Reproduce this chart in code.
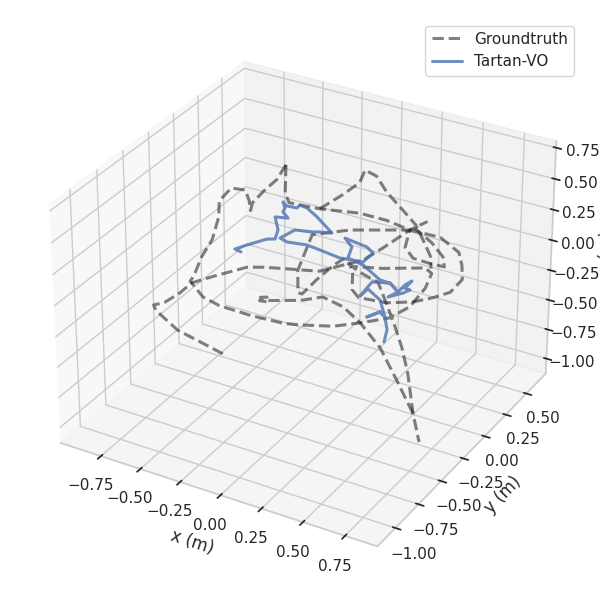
import numpy as np, matplotlib
matplotlib.use("Agg")
import matplotlib.pyplot as plt, seaborn as sns
sns.set_theme(style="whitegrid")

g1x=[-.38,-.5,-.62,-.75,-.77,-.72,-.66,-.62,-.51,-.38,-.31,-.2,-.13,-.04,.06,.15,.23,.33,.4]
g1y=[-.54,-.57,-.61,-.62,-.61,-.58,-.52,-.46,-.38,-.28,-.24,-.18,-.14,-.09,-.02,.05,.13,.24,.31]
g1z=[-.59,-.52,-.44,-.32,-.29,-.27,-.21,-.15,-.1,-.05,-.05,-.06,-.07,-.08,-.04,-.01,.07,.18,.23]
g2x=[-.36,-.36,-.4,-.44,-.44,-.46,-.49,-.56,-.6,-.58,-.58,-.61,-.62,-.63,-.55,-.46,-.3,-.14,-.06,.1,.22,.35,.43,.48,.49,.45,.25,.11,.07,.15,.25,.33,.39,.45,.51,.59,.73]
g2y=[.1,.0,-.05,-.12,-.14,-.12,-.11,-.14,-.2,-.24,-.31,-.37,-.44,-.46,-.46,-.44,-.38,-.31,-.27,-.18,-.1,-.01,.07,.15,.2,.2,.08,.01,-.0,.01,.04,.01,-.02,-.05,-.09,-.17,-.36]
g2z=[.55,.49,.43,.35,.3,.36,.43,.44,.36,.26,.12,.01,-.11,-.14,-.24,-.29,-.35,-.4,-.41,-.42,-.4,-.37,-.3,-.18,-.09,-.06,-.06,-.05,-.02,-.08,-.15,-.31,-.42,-.55,-.71,-.96,-1.0]
g3x=[-.27,-.28,-.25,-.24,-.28,-.16,-.09,.01,.12,.22,.35,.47,.59]
g3y=[-.31,-.31,-.29,-.3,-.32,-.25,-.21,-.14,-.11,-.1,-.11,-.14,-.17]
g3z=[-.26,-.24,-.24,-.27,-.26,-.26,-.26,-.24,-.3,-.4,-.55,-.75,-.96]
g4x=[-.36,-.3,-.27,-.22,-.12,.07,.21,.33,.48,.59,.62,.64,.6,.53,.44,.32,.18,.14,.12,.1]
g4y=[.1,-.01,-.02,.01,.05,.15,.2,.24,.31,.32,.3,.27,.21,.15,.09,.01,-.05,-.05,-.01,-.0]
g4z=[.55,.41,.35,.33,.31,.28,.24,.18,.13,.04,-.04,-.13,-.21,-.24,-.27,-.27,-.24,-.19,-.09,-.05]
g5x=[-.12,-.03,.03,.04,.1,.17,.27,.35,.42,.46,.48]
g5y=[.05,.14,.22,.26,.28,.27,.27,.27,.25,.24,.21]
g5z=[.31,.4,.47,.55,.51,.41,.3,.21,.09,.01,-.06]
g6x=[.06,.02,-.04,-.09,-.11,-.14,-.13,-.12,.05,.33,.33,.38,.47,.54,.52,.45,.35]
g6y=[.01,-.04,-.12,-.19,-.2,-.15,-.09,-.03,.08,.24,.19,.19,.22,.25,.27,.27,.26]
g6z=[.0,-.04,-.13,-.22,-.21,-.07,.04,.15,.18,.18,.07,.0,-.03,-.05,.01,.1,.19]
bx=[-.431,-.463,-.412,-.326,-.289,-.287,-.318,-.256,-.288,-.284,-.301,-.277,-.228,-.218,-.181,-.122,-.031,-.088,-.121,-.208,-.267,-.229,-.132,-.064,.04,.153,.188,.151,.037,.081,.077,.157,.256,.307,.357,.317,.381,.41,.384,.407,.38,.357,.307,.222,.184,.212,.283,.329,.299,.245,.299,.329,.356,.358]
by=[-.258,-.268,-.226,-.159,-.138,-.109,-.087,-.055,-.055,-.04,-.032,-.03,-.008,.007,.019,.025,.028,-.002,-.02,-.064,-.122,-.113,-.066,-.043,-.008,.044,.092,.089,.051,.049,.014,.038,.049,.068,.069,.031,.08,.106,.097,.132,.104,.069,.068,.023,-.042,-.004,.003,-.023,-.025,-.071,-.025,-.023,-.047,-.083]
bz=[.042,.06,.085,.122,.122,.178,.259,.252,.29,.314,.352,.327,.314,.333,.314,.259,.159,.166,.166,.178,.128,.104,.085,.054,.004,-.02,.035,.073,.128,.073,.004,-.039,-.132,-.151,-.206,-.237,-.213,-.194,-.182,-.138,-.163,-.206,-.151,-.144,-.231,-.188,-.256,-.361,-.33,-.361,-.33,-.361,-.442,-.516]
xticks=[-.75,-.5,-.25,0,.25,.5,.75]
yticks=[-1,-.75,-.5,-.25,0,.25,.5]
zticks=[-1,-.75,-.5,-.25,0,.25,.5,.75]

fig=plt.figure(figsize=(6,6),dpi=100)
ax=fig.add_subplot(111,projection='3d')
strokes=[(g1x,g1y,g1z),(g2x,g2y,g2z),(g3x,g3y,g3z),(g4x,g4y,g4z),(g5x,g5y,g5z),(g6x,g6y,g6z)]
for i,(x,y,z) in enumerate(strokes):
    ax.plot(x,y,z,'--',lw=2.2,color='k',alpha=.55,label='Groundtruth' if i==0 else None)
ax.plot(bx,by,bz,lw=2.2,color=sns.color_palette()[0],alpha=.8,label='Tartan-VO')
ax.set_xlim(-1.01,0.94);ax.set_ylim(-1.19,0.74);ax.set_zlim(-1.13,0.805)
ax.set_xticks(xticks);ax.set_yticks(yticks);ax.set_zticks(zticks)
ax.set_xlabel('x (m)');ax.set_ylabel('y (m)');ax.set_zlabel('z (m)')
ax.legend(loc='upper right')
fig.tight_layout()
fig.savefig('out.png',dpi=100)
